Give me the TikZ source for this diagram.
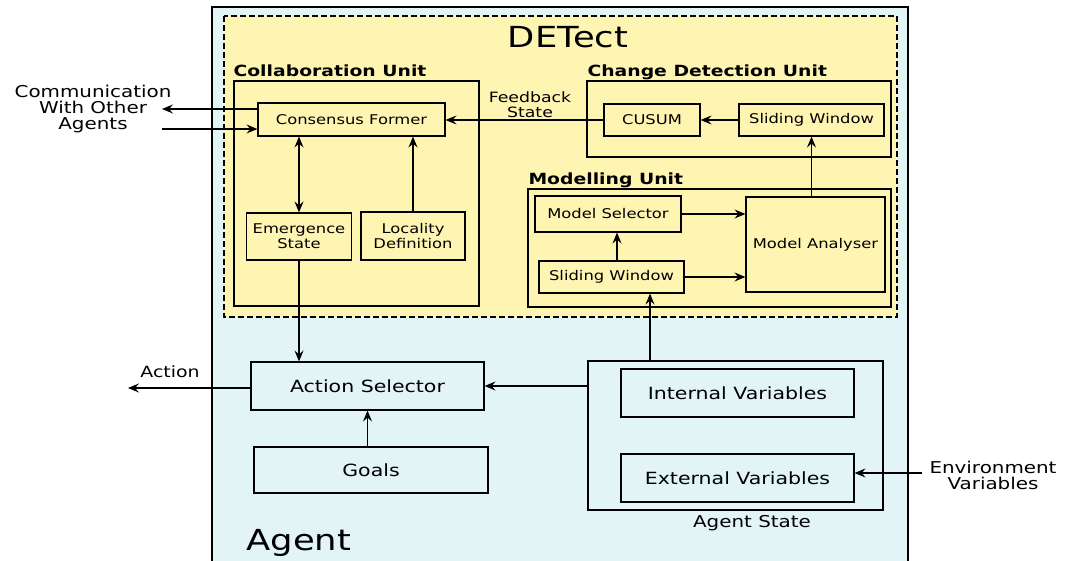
\documentclass[tikz,border=0pt]{standalone}
\usepackage{fontspec}
\setmainfont[FakeStretch=1.22]{DejaVu Sans}
\usetikzlibrary{arrows.meta,positioning}
\definecolor{agentbg}{HTML}{E2F4F5}
\definecolor{detectbg}{HTML}{FFF5B3}

\begin{document}
\begin{tikzpicture}[
      x=1pt, y=-1pt,
      line width=1.1pt,
      >={Stealth[length=11pt,width=9pt,inset=4pt]},
      blk/.style={draw, inner sep=0pt, align=center, font=\fontsize{13.4}{15}\selectfont},
      bigblk/.style={blk, font=\fontsize{16.8}{18}\selectfont},
      unitlabel/.style={anchor=base west, inner sep=0pt, font=\bfseries\fontsize{15.4}{17}\selectfont},
      txt/.style={align=center, inner sep=0pt, font=\fontsize{16.3}{16}\selectfont}
  ]
  \useasboundingbox (0,0) rectangle (1069,561);

  % Agent and DETect backgrounds
  \begin{scope}
    \clip (0,0) rectangle (1069,561);
    \draw[fill=agentbg, line width=1.4pt] (212,7) rectangle (908,575);
  \end{scope}
  \draw[fill=detectbg, line width=1.4pt, dash pattern=on 6pt off 3pt] (224,16) rectangle (897,317);
  \node[inner sep=0pt, font=\fontsize{29}{30}\selectfont] (detect) at (568,37) {DETect};
  \node[anchor=base west, inner sep=0pt, font=\fontsize{29}{30}\selectfont] (agent) at (246,550) {Agent};

  % Units
  \draw[fill=detectbg] (234,81) rectangle (479,306);
  \node[unitlabel] (collablbl) at (233,77) {Collaboration Unit};
  \draw[fill=detectbg] (587,81) rectangle (891,157);
  \node[unitlabel] (changelbl) at (587,77) {Change Detection Unit};
  \draw[fill=detectbg] (528,189) rectangle (891,307);
  \node[unitlabel] (modellbl) at (528,185) {Modelling Unit};

  % Blocks
  \node[blk, minimum width=187pt, minimum height=33pt] (cons) at (351.5,119.5) {Consensus Former};
  \node[blk, minimum width=105pt, minimum height=47pt] (emerg) at (299,236.5) {Emergence\\State};
  \node[blk, minimum width=104pt, minimum height=48pt] (local) at (413,236) {Locality\\Definition};
  \node[blk, minimum width=96pt, minimum height=32pt] (cusum) at (652,120) {CUSUM};
  \node[blk, minimum width=145pt, minimum height=32pt] (slidcd) at (811.5,120) {Sliding Window};
  \node[blk, minimum width=146pt, minimum height=36pt] (modsel) at (608,214) {Model Selector};
  \node[blk, minimum width=145pt, minimum height=32pt] (slidm) at (611.5,277) {Sliding Window};
  \node[blk, minimum width=139pt, minimum height=95pt] (ana) at (815.5,244.5) {Model Analyser};
  \node[bigblk, minimum width=233pt, minimum height=48pt] (actsel) at (367.5,386) {Action Selector};
  \node[bigblk, minimum width=234pt, minimum height=46pt] (goals) at (371,470) {Goals};
  \node[draw, minimum width=295pt, minimum height=149pt] (agstate) at (735.5,435.5) {};
  \node[bigblk, minimum width=233pt, minimum height=48pt] (intvar) at (737.5,393) {Internal Variables};
  \node[bigblk, minimum width=233pt, minimum height=48pt] (extvar) at (737.5,478) {External Variables};

  % Outside labels
  \node[txt] (commlbl) at (93,109) {Communication\\With Other\\Agents};
  \node[txt, font=\fontsize{14.2}{15}\selectfont] (fblbl) at (530,104.5) {Feedback\\State};
  \node[txt, font=\fontsize{15.5}{16}\selectfont] (actlbl) at (170,372) {Action};
  \node[txt] (envlbl) at (993,475) {Environment\\Variables};
  \node[txt] (aglbl) at (752,523) {Agent State};
  \coordinate (commout) at (162,109);
  \coordinate (commin) at (162,129);
  \coordinate (actout) at (128,388);
  \coordinate (envin) at (922,473);

  % Connectors
  \draw[->] (cons.west |- commout) -- (commout);
  \draw[->] (commin) -- (commin -| cons.west);
  \draw[<->] (emerg.north |- cons.south) -- (emerg.north);
  \draw[->] (local.north) -- (local.north |- cons.south);
  \draw[->] (cusum.west) -- (cusum.west -| cons.east);
  \draw[->] (slidcd.west) -- (cusum.east);
  \draw[->] (ana.north -| slidcd.south) -- (slidcd.south);
  \draw[->] (modsel.east) -- (modsel.east -| ana.west);
  \draw[->] (slidm.east) -- (slidm.east -| ana.west);
  \draw[->] ([xshift=5.5pt]slidm.north) -- ([xshift=5.5pt]slidm.north |- modsel.south);
  \draw[->] ([xshift=38.5pt]slidm.south |- agstate.north) -- ([xshift=38.5pt]slidm.south);
  \draw[->] (agstate.west |- actsel.east) -- (actsel.east);
  \draw[->] (goals.north -| actsel.south) -- (actsel.south);
  \draw[->] (emerg.south) -- (emerg.south |- actsel.north);
  \draw[->] (actsel.west |- actout) -- (actout);
  \draw[->] (envin) -- (envin -| extvar.east);

\end{tikzpicture}
\end{document}
